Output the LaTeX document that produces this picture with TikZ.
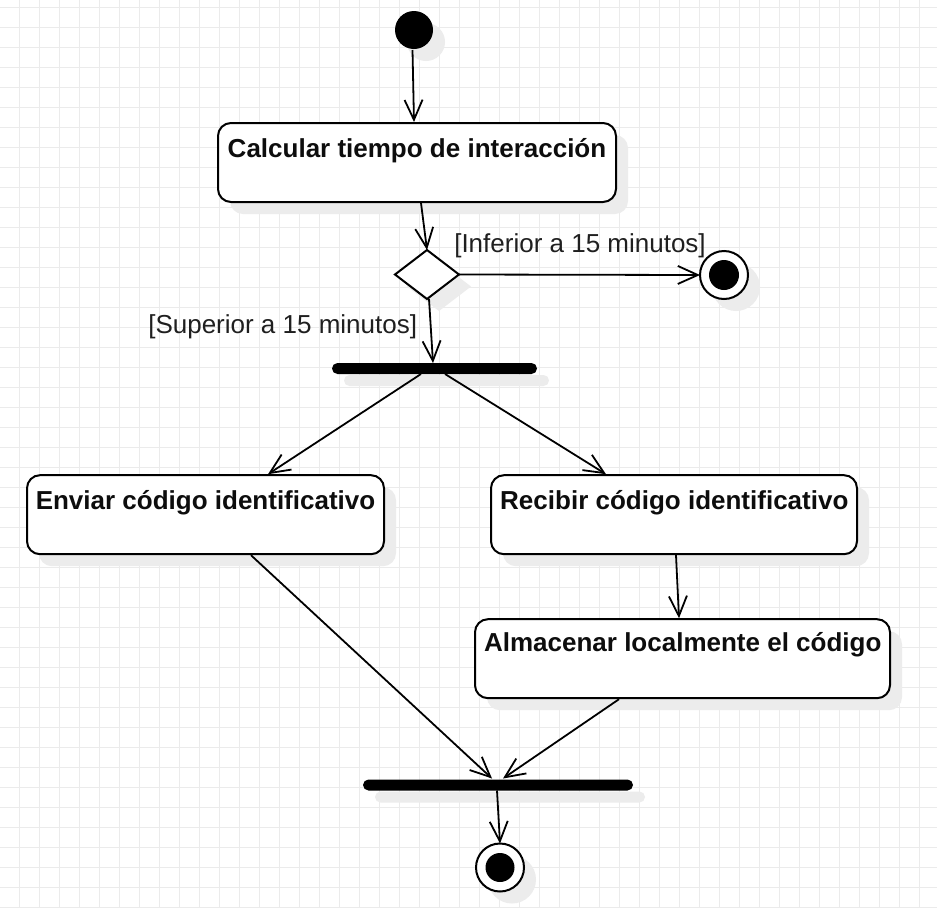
\documentclass[tikz,border=0pt]{standalone}
\usepackage{fontspec}
\setmainfont{Liberation Sans}
\usetikzlibrary{arrows.meta,shapes.geometric,calc}
\definecolor{gridc}{HTML}{EBEBEB}
\definecolor{shad}{HTML}{ECECEC}
\begin{document}
\begin{tikzpicture}[x=1pt,y=-1pt,
  every node/.style={inner sep=0pt,outer sep=0pt},
  shadowbox/.style={preaction={fill=shad,transform canvas={shift={(12pt,-12pt)}}}},
  act/.style={draw=black,line width=2pt,fill=white,rounded corners=13pt,shadowbox},
  bar/.style={fill=black,rounded corners=5.5pt,minimum height=11pt,shadowbox},
  flow/.style={line width=1.8pt,-{Straight Barb[length=20pt,width=18pt,line width=1.8pt]}},
  lbl/.style={font=\fontsize{26}{31}\selectfont\bfseries,anchor=base,text=black!95},
  guard/.style={font=\fontsize{26}{31}\selectfont,anchor=base,text=black!88}
]
\useasboundingbox (0,0) rectangle (937,908);
\fill[white] (0,0) rectangle (937,908);
\foreach \i in {0,...,46} \draw[gridc,line width=1pt] ({19.5+20*\i},0) -- ++(0,908);
\foreach \j in {0,...,45} \draw[gridc,line width=1pt] (0,{7.5+20*\j}) -- ++(937,0);

% nodes
\node[circle,fill=black,minimum size=38pt,shadowbox] (start) at (414,30) {};
\node[act,minimum width=398pt,minimum height=79pt] (calc) at (417,162.5) {};
\node[lbl] (calctxt) at (417,157) {Calcular tiempo de interacción};
\node[diamond,draw=black,line width=2pt,fill=white,minimum width=64pt,minimum height=49pt,shadowbox] (dec) at (427,274.5) {};
\node[circle,draw=black,line width=2pt,fill=white,minimum size=48pt,shadowbox] (end1) at (724,275) {};
\node[circle,fill=black,minimum size=30pt] (end1dot) at (end1.center) {};
\node[guard] (inf) at (580,252.3) {[Inferior a 15 minutos]};
\node[guard] (sup) at (282.7,333.3) {[Superior a 15 minutos]};
\node[bar,minimum width=205pt] (fork) at (434.5,368.5) {};
\node[act,minimum width=357pt,minimum height=79pt] (envia) at (205.5,514.7) {};
\node[lbl] (enviatxt) at (205.5,509.3) {Enviar código identificativo};
\node[act,minimum width=366pt,minimum height=79pt] (recibe) at (674,514.7) {};
\node[lbl] (recibetxt) at (674.3,509.3) {Recibir código identificativo};
\node[act,minimum width=415pt,minimum height=79pt] (alma) at (682.5,658.7) {};
\node[lbl] (almatxt) at (682.8,651.7) {Almacenar localmente el código};
\node[bar,minimum width=270pt] (join) at (498,785) {};
\node[circle,draw=black,line width=2pt,fill=white,minimum size=48pt,shadowbox] (end2) at (500,867.5) {};
\node[circle,fill=black,minimum size=29pt] (end2dot) at (end2.center) {};

% connectors
\draw[flow] ($(start.south)+(-1.5,1)$) -- ($(calc.north)+(-3,-1)$);
\draw[flow] ($(calc.south)+(4,1)$) -- ($(dec.north)+(0,0)$);
\draw[flow] (dec.east) -- (end1.west);
\draw[flow] ($(dec.south)+(2,0)$) -- ($(fork.north)+(-1.5,0)$);
\draw[flow] ($(fork.south)+(-13.5,0)$) -- ($(envia.north)+(62.5,-1)$);
\draw[flow] ($(fork.south)+(10.5,0)$) -- ($(recibe.north)+(-68,-1)$);
\draw[flow] ($(envia.south)+(45.5,1)$) -- ($(join.north)+(-6,-1)$);
\draw[flow] ($(alma.south)+(-63.5,1)$) -- ($(join.north)+(5,-1)$);
\draw[flow] ($(recibe.south)+(2,1)$) -- ($(alma.north)+(-3.5,-1)$);
\draw[flow] ($(join.south)+(-1,0)$) -- (end2.north);
\end{tikzpicture}
\end{document}
